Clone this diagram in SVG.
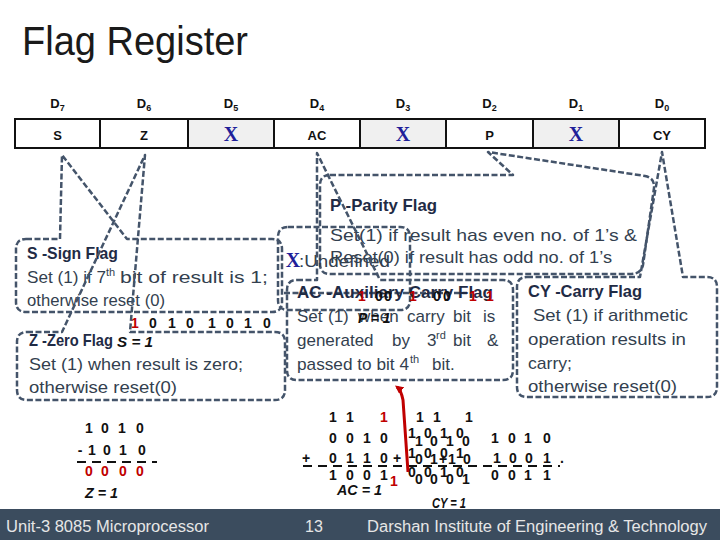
<svg xmlns="http://www.w3.org/2000/svg" width="720" height="540" viewBox="0 0 720 540">
<style>
text { font-family: "Liberation Sans", Arial, sans-serif; }
.co { fill: none; stroke: #44546a; stroke-width: 2.5; stroke-dasharray: 6 2.5; stroke-linejoin: round; }
.ttl { font-weight: bold; font-size: 17px; fill: #1f2b45; }
.body { font-size: 17px; fill: #333f4f; }
.sup { font-size: 11px; fill: #333f4f; }
.bits { font-weight: bold; font-size: 14px; fill: #111; }
.red { fill: #c00000; }
.bi { font-weight: bold; font-style: italic; font-size: 14px; fill: #111; }
.hd { font-weight: bold; font-size: 13px; fill: #111; text-anchor: middle; }
.cx { font-family: "Liberation Serif", serif; font-weight: bold; font-size: 20px; fill: #1f1f9a; text-anchor: middle; }
.ul { stroke: #111; stroke-width: 2; stroke-dasharray: 9 6; }
.foot { font-size: 16px; fill: #e6e6e6; }
</style>
<defs>
<marker id="redhead" viewBox="0 0 10 10" refX="7" refY="5" markerWidth="2.8" markerHeight="2.8" orient="auto">
<path d="M0,0 L10,5 L0,10 Z" fill="#c00000"/>
</marker>
</defs>
<rect width="720" height="540" fill="#ffffff"/>

<text x="22" y="55" font-size="40" fill="#1a1a1a" textLength="226" lengthAdjust="spacingAndGlyphs">Flag Register</text>

<g id="register">
<text class="hd" x="57.5" y="108">D<tspan font-size="9" dy="3">7</tspan></text>
<text class="hd" x="144" y="108">D<tspan font-size="9" dy="3">6</tspan></text>
<text class="hd" x="231" y="108">D<tspan font-size="9" dy="3">5</tspan></text>
<text class="hd" x="317" y="108">D<tspan font-size="9" dy="3">4</tspan></text>
<text class="hd" x="403" y="108">D<tspan font-size="9" dy="3">3</tspan></text>
<text class="hd" x="489.5" y="108">D<tspan font-size="9" dy="3">2</tspan></text>
<text class="hd" x="576" y="108">D<tspan font-size="9" dy="3">1</tspan></text>
<text class="hd" x="662" y="108">D<tspan font-size="9" dy="3">0</tspan></text>
<rect x="15" y="119" width="690" height="29" fill="#ffffff"/>
<rect x="188" y="119" width="86" height="29" fill="#f0f0f0"/>
<rect x="360" y="119" width="86" height="29" fill="#f0f0f0"/>
<rect x="533" y="119" width="86" height="29" fill="#f0f0f0"/>
<rect x="15" y="119" width="690" height="29" fill="none" stroke="#111" stroke-width="2"/>
<path d="M100,119V148M188,119V148M274,119V148M360,119V148M446,119V148M533,119V148M619,119V148" stroke="#111" stroke-width="2"/>
<text class="hd" x="57.5" y="140">S</text>
<text class="hd" x="144" y="140">Z</text>
<text class="cx" x="231" y="141">X</text>
<text class="hd" x="317" y="140">AC</text>
<text class="cx" x="403" y="141">X</text>
<text class="hd" x="489.5" y="140">P</text>
<text class="cx" x="576" y="141">X</text>
<text class="hd" x="662" y="140">CY</text>
</g>

<g id="sign-flag">
<path class="co" d="M26,239 H60 L62,155 L127,239 H272 Q282,239 282,249 V302 Q282,312 272,312 H26 Q16,312 16,302 V249 Q16,239 26,239 Z"/>
<text class="ttl" x="27" y="259" textLength="91" lengthAdjust="spacingAndGlyphs">S -Sign Flag</text>
<text class="body" x="27" y="283" textLength="79" lengthAdjust="spacingAndGlyphs">Set (1) if 7</text>
<text class="sup" x="106" y="276">th</text>
<text class="body" x="120" y="283" textLength="148" lengthAdjust="spacingAndGlyphs">bit of result is 1;</text>
<text class="body" x="27" y="306" textLength="138" lengthAdjust="spacingAndGlyphs">otherwise reset (0)</text>
<text class="bits" y="328" text-anchor="middle"><tspan x="135" class="red">1</tspan><tspan x="153">0</tspan><tspan x="172">1</tspan><tspan x="190">0</tspan><tspan x="212">1</tspan><tspan x="230">0</tspan><tspan x="248">1</tspan><tspan x="267">0</tspan></text>
</g>

<g id="zero-flag">
<path class="co" d="M27,332 H62 L145,155 L130,332 H275 Q285,332 285,342 V390 Q285,400 275,400 H27 Q17,400 17,390 V342 Q17,332 27,332 Z"/>
<text class="ttl" x="29" y="346" textLength="84" lengthAdjust="spacingAndGlyphs">Z -Zero Flag</text>
<text class="bi" x="117" y="347" textLength="36" lengthAdjust="spacingAndGlyphs">S = 1</text>
<text class="body" x="29" y="370" textLength="214" lengthAdjust="spacingAndGlyphs">Set (1) when result is zero;</text>
<text class="body" x="29" y="393" textLength="148" lengthAdjust="spacingAndGlyphs">otherwise reset(0)</text>
</g>

<g id="zero-example">
<text class="bits" y="433" text-anchor="middle"><tspan x="89">1</tspan><tspan x="105">0</tspan><tspan x="122">1</tspan><tspan x="140">0</tspan></text>
<text class="bits" y="455" text-anchor="middle"><tspan x="80">-</tspan><tspan x="92">1</tspan><tspan x="107">0</tspan><tspan x="123">1</tspan><tspan x="142">0</tspan></text>
<line class="ul" x1="77" y1="462" x2="157" y2="462"/>
<text class="bits red" y="476" text-anchor="middle"><tspan x="89">0</tspan><tspan x="105">0</tspan><tspan x="123">0</tspan><tspan x="140">0</tspan></text>
<text class="bi" x="85" y="498" textLength="33" lengthAdjust="spacingAndGlyphs">Z = 1</text>
</g>

<g id="parity-flag">
<path class="co" d="M330,175 H513 L488,152 L645,176 Q655,178 654,188 L643,265 Q641,274 631,274 H330 Q320,274 320,264 V185 Q320,175 330,175 Z"/>
<text class="ttl" x="330" y="211" textLength="107" lengthAdjust="spacingAndGlyphs">P -Parity Flag</text>
<text class="body" x="330" y="241" textLength="307" lengthAdjust="spacingAndGlyphs">Set(1) if result has even no. of 1’s &amp;</text>
<text class="body" x="330" y="263" textLength="282" lengthAdjust="spacingAndGlyphs">Reset(0) if result has odd no. of 1’s</text>
</g>

<g id="undefined-note">
<path class="co" d="M288,227 H400 Q410,227 410,237 V300 Q410,310 400,310 H288 Q278,310 278,300 V237 Q278,227 288,227 Z"/>
<path class="co" d="M284,293 H467"/>
<text class="cx" x="293" y="267">X</text>
<text class="body" x="299" y="267" textLength="91" lengthAdjust="spacingAndGlyphs">:Undefined</text>
</g>

<g id="aux-carry-flag">
<path class="co" d="M297,280 H317 L317,153 L380,280 H503 Q513,280 513,290 V370 Q513,380 503,380 H297 Q287,380 287,370 V290 Q287,280 297,280 Z"/>
<text class="ttl" x="297" y="298" textLength="196" lengthAdjust="spacingAndGlyphs">AC -Auxiliary Carry Flag</text>
<text class="bits" y="301" text-anchor="middle"><tspan x="362" class="red">1</tspan><tspan x="379">0</tspan><tspan x="388">0</tspan><tspan x="413" class="red">1</tspan><tspan x="437">0</tspan><tspan x="447">0</tspan><tspan x="473" class="red">1</tspan><tspan x="490" class="red">1</tspan></text>
<text class="body" y="322"><tspan x="297">Set</tspan><tspan x="328">(1)</tspan><tspan x="358">when</tspan><tspan x="407">carry</tspan><tspan x="453">bit</tspan><tspan x="483">is</tspan></text>
<text class="bi" x="358" y="323">P = 1</text>
<text class="body" y="346"><tspan x="297">generated</tspan><tspan x="392">by</tspan><tspan x="427">3</tspan></text>
<text class="sup" x="436" y="339">rd</text>
<text class="body" y="346"><tspan x="453">bit</tspan><tspan x="487">&amp;</tspan></text>
<text class="body" x="297" y="370" textLength="112" lengthAdjust="spacingAndGlyphs">passed to bit 4</text>
<text class="sup" x="410" y="363">th</text>
<text class="body" x="432" y="370">bit.</text>
</g>

<g id="carry-flag">
<path class="co" d="M527,277 H640 L662,152 L683,277 H707 Q717,277 717,287 V387 Q717,397 707,397 H527 Q517,397 517,387 V287 Q517,277 527,277 Z"/>
<text class="ttl" x="528" y="297" textLength="114" lengthAdjust="spacingAndGlyphs">CY -Carry Flag</text>
<text class="body" x="533" y="321" textLength="155" lengthAdjust="spacingAndGlyphs">Set (1) if arithmetic</text>
<text class="body" x="528" y="345" textLength="158" lengthAdjust="spacingAndGlyphs">operation results in</text>
<text class="body" x="528" y="369" textLength="44" lengthAdjust="spacingAndGlyphs">carry;</text>
<text class="body" x="528" y="392" textLength="149" lengthAdjust="spacingAndGlyphs">otherwise reset(0)</text>
</g>

<g id="carry-example">
<text class="bits" y="422" text-anchor="middle"><tspan x="333">1</tspan><tspan x="350">1</tspan><tspan x="384" class="red">1</tspan><tspan x="420">1</tspan><tspan x="437">1</tspan><tspan x="469">1</tspan></text>
<text class="bits" y="443" text-anchor="middle"><tspan x="333">0</tspan><tspan x="350">0</tspan><tspan x="367">1</tspan><tspan x="384">0</tspan><tspan x="495">1</tspan><tspan x="512">0</tspan><tspan x="528">1</tspan><tspan x="547">0</tspan></text>
<text class="bits" y="438" text-anchor="middle"><tspan x="412">1</tspan><tspan x="428">0</tspan><tspan x="444">1</tspan><tspan x="460">0</tspan></text>
<text class="bits" y="446" text-anchor="middle"><tspan x="419">1</tspan><tspan x="434">0</tspan><tspan x="450">1</tspan><tspan x="466">0</tspan></text>
<text class="bits" y="463" text-anchor="middle"><tspan x="306">+</tspan><tspan x="333">0</tspan><tspan x="350">1</tspan><tspan x="367">1</tspan><tspan x="384">0</tspan><tspan x="397">+</tspan><tspan x="497">1</tspan><tspan x="513">0</tspan><tspan x="529">0</tspan><tspan x="547">1</tspan><tspan x="562">.</tspan></text>
<text class="bits" y="458" text-anchor="middle"><tspan x="412">1</tspan><tspan x="428">0</tspan><tspan x="444">0</tspan><tspan x="460">1</tspan></text>
<text class="bits" y="464" text-anchor="middle"><tspan x="419">0</tspan><tspan x="434">1</tspan><tspan x="443">+</tspan><tspan x="452">1</tspan><tspan x="467">0</tspan></text>
<line class="ul" x1="303" y1="466" x2="560" y2="466"/>
<text class="bits" y="480" text-anchor="middle"><tspan x="333">1</tspan><tspan x="350">0</tspan><tspan x="367">0</tspan><tspan x="384">1</tspan><tspan x="495">0</tspan><tspan x="512">0</tspan><tspan x="528">1</tspan><tspan x="547">1</tspan></text>
<text class="bits red" x="394" y="486" text-anchor="middle">1</text>
<text class="bits" y="477" text-anchor="middle"><tspan x="412">0</tspan><tspan x="428">0</tspan><tspan x="444">1</tspan><tspan x="460">0</tspan></text>
<text class="bits" y="484" text-anchor="middle"><tspan x="419">0</tspan><tspan x="434">0</tspan><tspan x="450">0</tspan><tspan x="466">1</tspan></text>
<text class="bi" x="337" y="495" textLength="45" lengthAdjust="spacingAndGlyphs">AC = 1</text>
<text class="bi" x="432" y="508" textLength="34" lengthAdjust="spacingAndGlyphs">CY = 1</text>
</g>

<g id="connectors">
<path d="M408,472 L403,400 Q401,390 397,387" fill="none" stroke="#c00000" stroke-width="3" marker-end="url(#redhead)"/>
</g>

<g id="footer">
<rect x="0" y="509" width="720" height="31" fill="#3b4c5e"/>
<text class="foot" x="6" y="532" textLength="203" lengthAdjust="spacingAndGlyphs">Unit-3 8085 Microprocessor</text>
<text class="foot" x="305" y="532">13</text>
<text class="foot" x="367" y="532" textLength="340" lengthAdjust="spacingAndGlyphs">Darshan Institute of Engineering &amp; Technology</text>
</g>
</svg>
